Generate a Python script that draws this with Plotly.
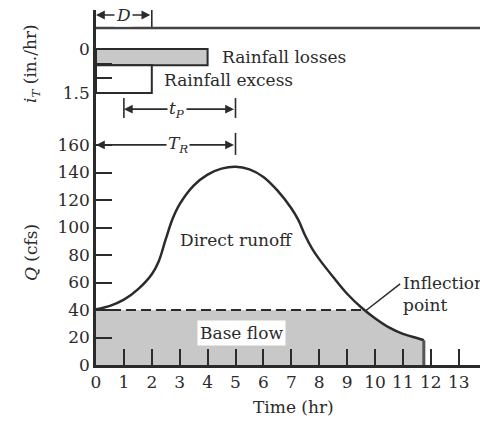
import plotly.graph_objects as go

# ---- data ----
t_hr = [0, 0.5, 1.0, 1.5, 2.0, 2.25, 2.5, 2.75, 3.0, 3.5, 4.0, 4.5, 5.0,
        5.5, 6.0, 6.5, 7.0, 7.25, 7.5, 7.75, 8.0, 8.5, 9.0, 9.5, 10.0, 10.5, 11.0, 11.5, 11.75]
Q_cfs = [40.5, 43, 47.5, 55, 66, 75.5, 91.5, 106.5, 117, 130.5, 138.5, 142.8, 144.2,
         142.3, 136.8, 127, 114, 105.5, 94, 84.5, 77, 64, 51.8, 42, 34, 27.3, 22.6, 19.6, 18]
base_flow = 40
t_inflection = 9.7
t_end = 11.75

loss_duration = 4.0       # hr
loss_depth = 0.55         # in./hr (losses)
excess_duration = 2.0     # D, hr
excess_top = 1.5          # in./hr
t_p_start = 1.0
t_peak = 5.0

x_ticks = list(range(0, 14))
q_ticks = list(range(0, 161, 20))
i_ticks = [0, 0.5, 1.0, 1.5]
i_ticklabels = ["0", "", "", "1.5"]

FONT = "DejaVu Serif"
FS = 17
INK = "#2b2b2b"
GRAY = "#c8c8c8"

fig = go.Figure()

# base flow fill
tail_t = [t for t in t_hr if t > t_inflection]
tail_q = [q for t, q in zip(t_hr, Q_cfs) if t > t_inflection]
fig.add_trace(go.Scatter(
    x=[0, t_inflection] + tail_t + [t_end], y=[base_flow, base_flow] + tail_q + [0],
    fill="tozeroy", fillcolor=GRAY, mode="lines", line=dict(width=0),
    hoverinfo="skip", showlegend=False))
# dashed base-flow separation
fig.add_trace(go.Scatter(x=[0, t_inflection], y=[base_flow, base_flow], mode="lines",
                         line=dict(color=INK, width=2, dash="10px,5px"), showlegend=False))
# hydrograph
fig.add_trace(go.Scatter(x=t_hr, y=Q_cfs, mode="lines",
                         line=dict(color=INK, width=2.5, shape="spline", smoothing=1),
                         showlegend=False))
fig.add_trace(go.Scatter(x=[t_end, t_end], y=[Q_cfs[-1], 0], mode="lines",
                         line=dict(color="#555", width=3), showlegend=False))
# inflection leader
fig.add_trace(go.Scatter(x=[t_inflection, 10.9], y=[base_flow, 59], mode="lines",
                         line=dict(color=INK, width=1.5), showlegend=False))

# hyetograph
fig.add_trace(go.Bar(x=[loss_duration / 2], width=[loss_duration], y=[loss_depth], base=[0],
                     yaxis="y2", marker=dict(color=GRAY, line=dict(color=INK, width=2)),
                     showlegend=False))
fig.add_trace(go.Bar(x=[excess_duration / 2], width=[excess_duration], y=[excess_top - loss_depth],
                     base=[loss_depth], yaxis="y2",
                     marker=dict(color="white", line=dict(color=INK, width=2)), showlegend=False))

ann = []
shapes = []

def dim(x0, x1, y, label, xlab):
    ann.append(dict(x=x0, y=y, ax=x1, ay=y, xref="x", yref="y2", axref="x", ayref="y2",
                    text="", showarrow=True, arrowside="end+start", arrowhead=2,
                    arrowsize=1.1, arrowwidth=1.6, arrowcolor=INK))
    ann.append(dict(x=xlab, y=y, xref="x", yref="y2", text=label, showarrow=False,
                    bgcolor="white", font=dict(family=FONT, size=FS, color=INK), borderpad=1))

dim(0, excess_duration, -1.16, "<i>D</i>", 0.97)
dim(t_p_start, t_peak, 2.05, "<i>t<sub>P</sub></i>", 2.9)
dim(0, t_peak, 3.27, "<i>T<sub>R</sub></i>", 2.95)

for xv, y0, y1 in [(excess_duration, -1.33, -0.72), (t_p_start, 1.67, 2.35), (t_peak, 1.67, 2.35),
                   (t_peak, 2.86, 3.61)]:
    shapes.append(dict(type="line", xref="x", yref="y2", x0=xv, x1=xv, y0=y0, y1=y1,
                       line=dict(color=INK, width=1.6)))
# top frame line of the hyetograph
shapes.append(dict(type="line", xref="paper", yref="y2", x0=0, x1=1, y0=-0.72, y1=-0.72,
                   line=dict(color="#444", width=2.5)))

txt = dict(family=FONT, size=FS, color=INK)
ann += [
    dict(x=4.45, y=0.27, xref="x", yref="y2", text="Rainfall losses", showarrow=False,
         xanchor="left", font=txt),
    dict(x=2.37, y=1.06, xref="x", yref="y2", text="Rainfall excess", showarrow=False,
         xanchor="left", font=txt),
    dict(x=5.05, y=91, xref="x", yref="y", text="Direct runoff", showarrow=False, font=txt),
    dict(x=5.23, y=23.3, xref="x", yref="y", text="Base flow", showarrow=False, font=txt,
         bgcolor="white", borderpad=2),
    dict(x=10.93, y=52, xref="x", yref="y", text="Inflection<br>point", showarrow=False,
         xanchor="left", align="left", font=txt),
]

# axis titles placed at pixel positions (converted to paper coords)
L, R, T, B, W, H = 96, 0, 10, 57, 480, 422
pw, ph = W - L - R, H - T - B
def px_ann(xp, yp, text, angle=0):
    return dict(x=(xp - L) / pw, y=(H - B - yp) / ph, xref="paper", yref="paper",
                xanchor="center", yanchor="middle", text=text, showarrow=False,
                textangle=angle, font=txt)
ann += [
    px_ann(31, 64, "<i>i<sub>T</sub></i> (in./hr)", -90),
    px_ann(31, 253, "<i>Q</i> (cfs)", -90),
    px_ann(293, 407, "Time (hr)"),
]

fig.update_layout(
    width=W, height=H, margin=dict(l=L, r=R, t=T, b=B),
    paper_bgcolor="white", plot_bgcolor="white", barmode="overlay",
    font=dict(family=FONT, size=FS, color=INK),
    annotations=ann, shapes=shapes,
    xaxis=dict(range=[0, (W - L) / 27.9], tickvals=x_ticks, ticks="inside", ticklen=16,
               tickwidth=1.6, tickcolor=INK, showline=True, linewidth=2.5, linecolor=INK,
               showgrid=False, zeroline=False, ticklabelstandoff=0),
    yaxis=dict(range=[0, (H - B - T) / 1.375], tickvals=q_ticks, ticks="inside", ticklen=16,
               tickwidth=1.6, tickcolor=INK, showline=True, linewidth=2.5, linecolor=INK,
               showgrid=False, zeroline=False),
    yaxis2=dict(overlaying="y", side="left", range=[(H - B - 49) / 29.33, -(49 - T) / 29.33],
                tickvals=i_ticks, ticktext=i_ticklabels, ticks="inside", ticklen=16,
                tickwidth=1.6, tickcolor=INK, showline=True, linewidth=2.5, linecolor=INK,
                showgrid=False, zeroline=False),
)

fig.write_html("out.html")
